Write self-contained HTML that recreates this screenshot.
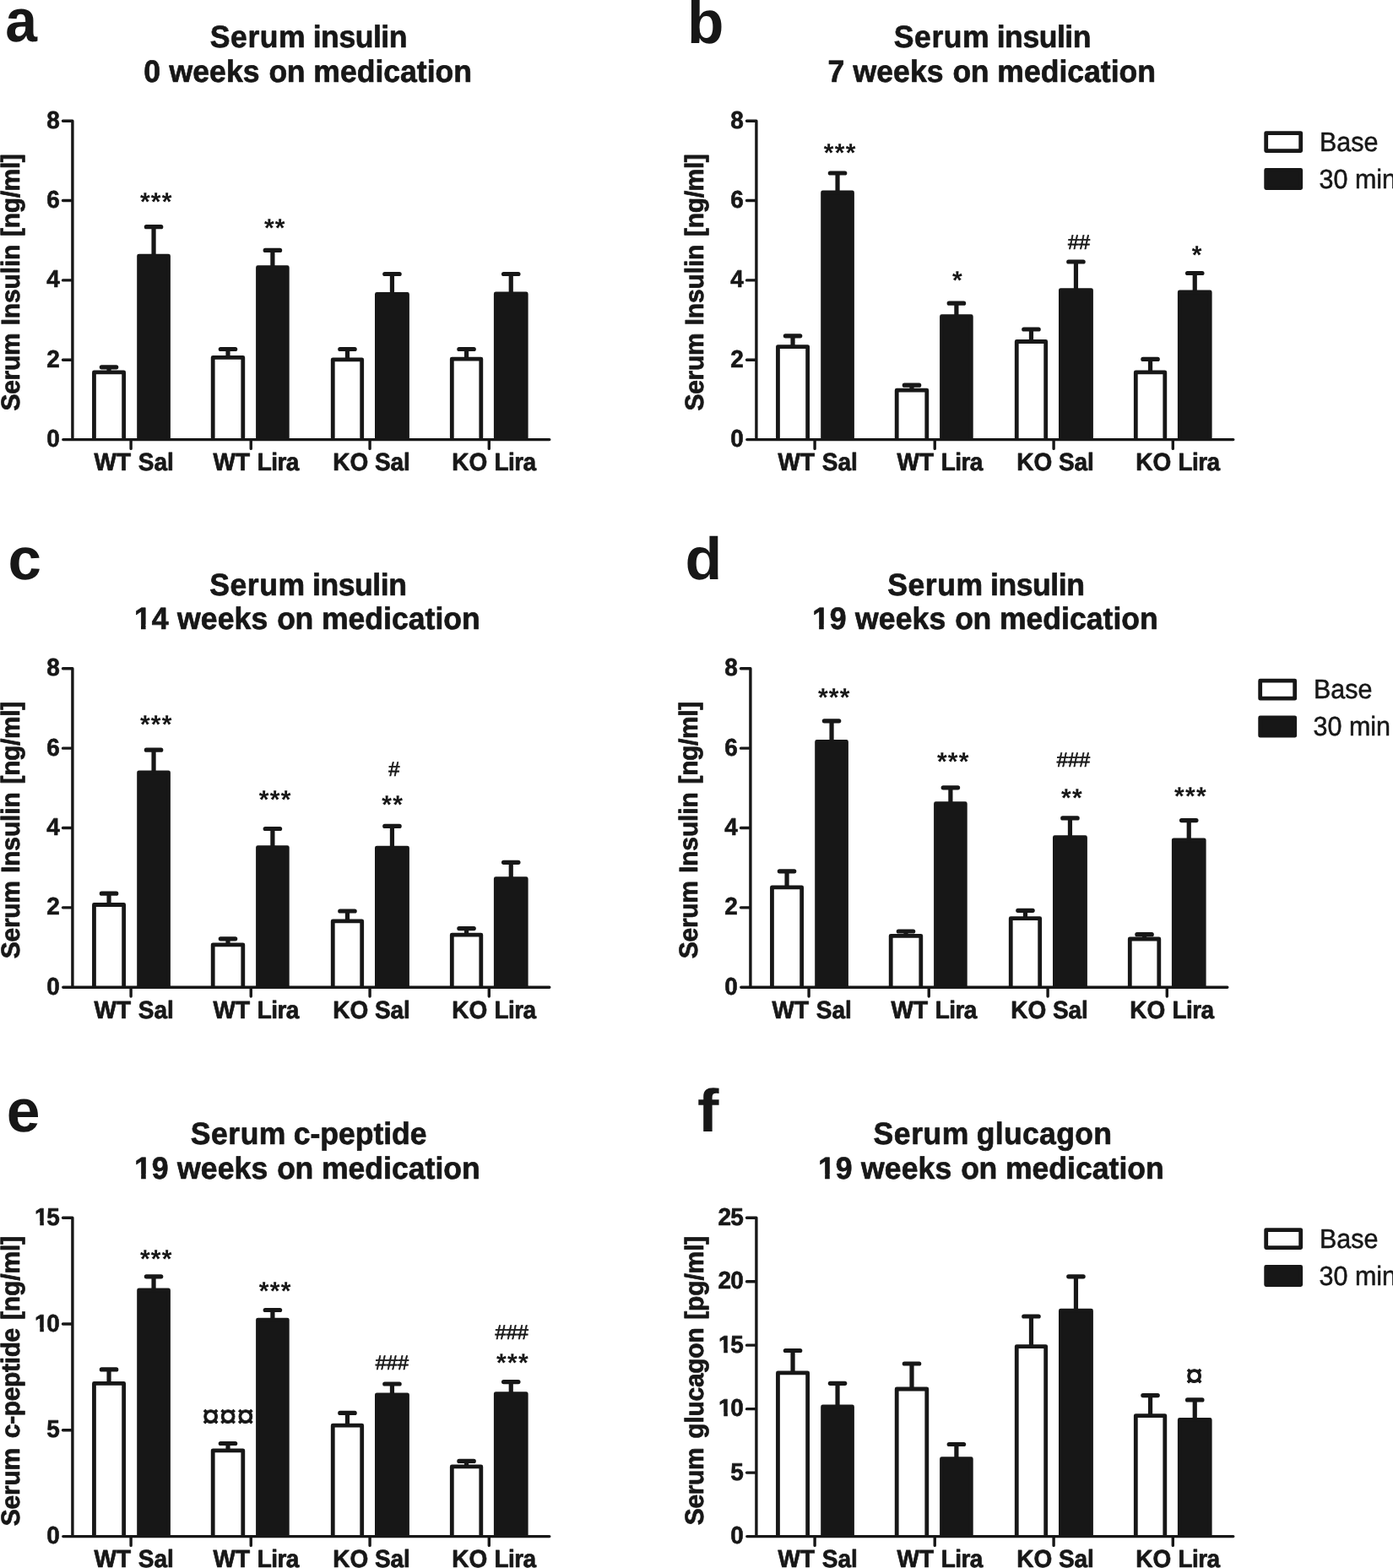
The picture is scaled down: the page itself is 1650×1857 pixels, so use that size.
<!DOCTYPE html>
<html lang="en">
<head>
<meta charset="utf-8">
<title>Serum insulin, c-peptide and glucagon</title>
<style>
html,body{margin:0;padding:0;background:#fff;}
body{width:1650px;height:1857px;overflow:hidden;}
svg{display:block;}
text{font-family:"Liberation Sans",sans-serif;fill:#171717;font-kerning:none;text-rendering:geometricPrecision;white-space:pre;}
.letter{font-size:72px;font-weight:bold;}
.title,.ylab,.tick,.tickd,.xl{font-weight:bold;stroke:#171717;stroke-width:0.7px;stroke-linejoin:round;}
.title{font-size:35.6px;}
.ylab{font-size:30.0px;}
.tick,.tickd{font-size:28px;stroke-width:0.6px;}
.xl{font-size:28px;}
.leg{font-size:30.5px;stroke:#171717;stroke-width:0.5px;stroke-linejoin:round;}
.sig{text-anchor:middle;}
.s{font-size:30.0px;font-weight:bold;letter-spacing:1.27px;}
.h{font-size:23.6px;stroke:#171717;stroke-width:0.7px;}
.c{font-size:37.2px;stroke:#171717;stroke-width:0.9px;stroke-linejoin:miter;}
.ax{fill:none;stroke:#171717;stroke-width:3.4;stroke-linecap:round;stroke-linejoin:round;}
.err{fill:none;stroke:#171717;stroke-width:5.2;stroke-linecap:round;}
.wb{fill:#fff;stroke:#171717;stroke-width:4.8;stroke-linejoin:round;stroke-linecap:butt;}
.bb{fill:#171717;stroke:#171717;stroke-width:4.8;stroke-linejoin:round;stroke-linecap:butt;}
</style>
</head>
<body>
<svg width="1650" height="1857" viewBox="0 0 1650 1857">
<rect x="0" y="0" width="1650" height="1857" fill="#fff"/>
<defs><clipPath id="one35_6" clipPathUnits="userSpaceOnUse"><path d="M-2 -35.6H35.6V-5.23H13.54V2H7.96V-5.23H-2Z"/></clipPath><clipPath id="one28" clipPathUnits="userSpaceOnUse"><path d="M-2 -28H28V-4.46H10.73V2H6.19V-4.46H-2Z"/></clipPath></defs>
<g class="panel" id="panel-a">
<text class="letter" transform="translate(6.16 49.05) scale(0.943 0.994)">a</text>
<text class="title" transform="translate(0 56) scale(1 1.03)"><tspan x="248.87" letter-spacing="0.53">Serum </tspan><tspan x="370.71" letter-spacing="-0.47">insulin</tspan></text>
<text class="title" transform="translate(0 96.6) scale(1 1.03)"><tspan x="170.29">0 </tspan><tspan x="200.4" letter-spacing="0.09">weeks </tspan><tspan x="318.61" letter-spacing="-0.49">on </tspan><tspan x="371.25">medication</tspan></text>
<text class="ylab" transform="translate(22.6 0) rotate(-90) scale(1 1.025)"><tspan x="-486.56" letter-spacing="-0.31">Serum </tspan><tspan x="-385.51" letter-spacing="-0.12">Insulin </tspan><tspan x="-279.88" letter-spacing="-0.38">[ng/ml]</tspan></text>
<path class="err" d="M120.35 434.8H137.75M129.05 434.8V441.5"/>
<path class="wb" d="M111.45 520.6V440.9H146.65V520.6"/>
<path class="err" d="M173.35 268.7H190.75M182.05 268.7V303.7"/>
<path class="bb" d="M164.6 520.6V303.1H199.5V520.6"/>
<path class="err" d="M261.3 413.5H278.7M270 413.5V424"/>
<path class="wb" d="M252.2 520.6V423.4H287.8V520.6"/>
<path class="err" d="M314.2 296.4H331.6M322.9 296.4V317.3"/>
<path class="bb" d="M305.5 520.6V316.7H340.3V520.6"/>
<path class="err" d="M402.78 413.5H420.18M411.48 413.5V426.5"/>
<path class="wb" d="M394.25 520.6V425.9H428.7V520.6"/>
<path class="err" d="M455.75 324.5H473.15M464.45 324.5V349"/>
<path class="bb" d="M446.4 520.6V348.4H482.5V520.6"/>
<path class="err" d="M543.85 413.5H561.25M552.55 413.5V425.7"/>
<path class="wb" d="M535.3 520.6V425.1H569.8V520.6"/>
<path class="err" d="M596.55 324.5H613.95M605.25 324.5V348.5"/>
<path class="bb" d="M587.3 520.6V347.9H623.2V520.6"/>
<path class="ax" d="M85.9 143.2V520.6M74.8 520.6H650.8M74.5 426.25H85.9M74.5 331.9H85.9M74.5 237.55H85.9M74.5 143.2H85.9M155.1 520.6V531.4M297.25 520.6V531.4M438.1 520.6V531.4M579.3 520.6V531.4"/>
<text class="tickd" transform="translate(55.15 529.1) scale(1 1.03)">0</text>
<text class="tickd" transform="translate(55.15 434.75) scale(1 1.03)">2</text>
<text class="tickd" transform="translate(55.15 340.4) scale(1 1.03)">4</text>
<text class="tickd" transform="translate(55.15 246.05) scale(1 1.03)">6</text>
<text class="tickd" transform="translate(55.15 151.7) scale(1 1.03)">8</text>
<text class="xl" transform="translate(0 557.1) scale(1 1.045)"><tspan x="111.47">WT </tspan><tspan x="163.79" letter-spacing="-0.07">Sal</tspan></text>
<text class="xl" transform="translate(0 557.1) scale(1 1.045)"><tspan x="252.47">WT </tspan><tspan x="304.63" letter-spacing="-0.52">Lira</tspan></text>
<text class="xl" transform="translate(0 557.1) scale(1 1.045)"><tspan x="394.23">KO </tspan><tspan x="444.09" letter-spacing="-0.22">Sal</tspan></text>
<text class="xl" transform="translate(0 557.1) scale(1 1.045)"><tspan x="535.33">KO </tspan><tspan x="585.53" letter-spacing="-0.59">Lira</tspan></text>
<text class="sig s" transform="translate(185.33 249.26)">***</text>
<text class="sig s" transform="translate(325.83 279.76)">**</text>
</g>
<g class="panel" id="panel-b">
<text class="letter" transform="translate(814.07 50.9) scale(0.987 1)">b</text>
<text class="title" transform="translate(0 56) scale(1 1.03)"><tspan x="1058.87" letter-spacing="0.53">Serum </tspan><tspan x="1180.71" letter-spacing="-0.47">insulin</tspan></text>
<text class="title" transform="translate(0 96.6) scale(1 1.03)"><tspan x="980.57">7 </tspan><tspan x="1010.4" letter-spacing="0.09">weeks </tspan><tspan x="1128.61" letter-spacing="-0.49">on </tspan><tspan x="1181.25">medication</tspan></text>
<text class="ylab" transform="translate(832.6 0) rotate(-90) scale(1 1.025)"><tspan x="-486.56" letter-spacing="-0.31">Serum </tspan><tspan x="-385.51" letter-spacing="-0.12">Insulin </tspan><tspan x="-279.88" letter-spacing="-0.38">[ng/ml]</tspan></text>
<path class="err" d="M930.35 397.8H947.75M939.05 397.8V411.2"/>
<path class="wb" d="M921.45 520.6V410.6H956.65V520.6"/>
<path class="err" d="M983.35 205H1000.75M992.05 205V228.6"/>
<path class="bb" d="M974.6 520.6V228H1009.5V520.6"/>
<path class="err" d="M1071.3 456.2H1088.7M1080 456.2V462.8"/>
<path class="wb" d="M1062.2 520.6V462.2H1097.8V520.6"/>
<path class="err" d="M1124.2 359.2H1141.6M1132.9 359.2V375.3"/>
<path class="bb" d="M1115.5 520.6V374.7H1150.3V520.6"/>
<path class="err" d="M1212.77 390H1230.17M1221.47 390V405.1"/>
<path class="wb" d="M1204.25 520.6V404.5H1238.7V520.6"/>
<path class="err" d="M1265.75 310H1283.15M1274.45 310V344.2"/>
<path class="bb" d="M1256.4 520.6V343.6H1292.5V520.6"/>
<path class="err" d="M1353.85 425.4H1371.25M1362.55 425.4V441.5"/>
<path class="wb" d="M1345.3 520.6V440.9H1379.8V520.6"/>
<path class="err" d="M1406.55 323.5H1423.95M1415.25 323.5V346.6"/>
<path class="bb" d="M1397.3 520.6V346H1433.2V520.6"/>
<path class="ax" d="M895.9 143.2V520.6M884.8 520.6H1460.8M884.5 426.25H895.9M884.5 331.9H895.9M884.5 237.55H895.9M884.5 143.2H895.9M965.1 520.6V531.4M1107.25 520.6V531.4M1248.1 520.6V531.4M1389.3 520.6V531.4"/>
<text class="tickd" transform="translate(865.15 529.1) scale(1 1.03)">0</text>
<text class="tickd" transform="translate(865.15 434.75) scale(1 1.03)">2</text>
<text class="tickd" transform="translate(865.15 340.4) scale(1 1.03)">4</text>
<text class="tickd" transform="translate(865.15 246.05) scale(1 1.03)">6</text>
<text class="tickd" transform="translate(865.15 151.7) scale(1 1.03)">8</text>
<text class="xl" transform="translate(0 557.1) scale(1 1.045)"><tspan x="921.47">WT </tspan><tspan x="973.79" letter-spacing="-0.07">Sal</tspan></text>
<text class="xl" transform="translate(0 557.1) scale(1 1.045)"><tspan x="1062.47">WT </tspan><tspan x="1114.63" letter-spacing="-0.52">Lira</tspan></text>
<text class="xl" transform="translate(0 557.1) scale(1 1.045)"><tspan x="1204.23">KO </tspan><tspan x="1254.09" letter-spacing="-0.22">Sal</tspan></text>
<text class="xl" transform="translate(0 557.1) scale(1 1.045)"><tspan x="1345.33">KO </tspan><tspan x="1395.53" letter-spacing="-0.59">Lira</tspan></text>
<text class="sig s" transform="translate(995.24 190.86)">***</text>
<text class="sig s" transform="translate(1134.54 342.36)">*</text>
<text class="sig h" transform="translate(1278.1 294.53) scale(1 1.02)">##</text>
<text class="sig s" transform="translate(1418.23 312.16)">*</text>
<rect class="wb" x="1499.7" y="157.6" width="41" height="21"/>
<rect class="bb" x="1499.7" y="201.4" width="41" height="21.2"/>
<text class="leg" transform="translate(1563 178.7) scale(1 1.05)">Base</text>
<text class="leg" transform="translate(1562.5 222.7) scale(1 1.05)">30 min</text>
</g>
<g class="panel" id="panel-c">
<text class="letter" transform="translate(9.58 686.07) scale(0.985 0.973)">c</text>
<text class="title" transform="translate(0 704.6) scale(1 1.03)"><tspan x="248.27" letter-spacing="0.53">Serum </tspan><tspan x="370.11" letter-spacing="-0.47">insulin</tspan></text>
<text class="title" transform="translate(159.01 745.2) scale(1 1.03)" clip-path="url(#one35_6)">1</text>
<text class="title" transform="translate(0 745.2) scale(1 1.03)"><tspan x="179.86">4 </tspan><tspan x="210.1" letter-spacing="0.09">weeks </tspan><tspan x="328.31" letter-spacing="-0.49">on </tspan><tspan x="380.95">medication</tspan></text>
<text class="ylab" transform="translate(22.6 0) rotate(-90) scale(1 1.025)"><tspan x="-1135.16" letter-spacing="-0.31">Serum </tspan><tspan x="-1034.11" letter-spacing="-0.12">Insulin </tspan><tspan x="-928.48" letter-spacing="-0.38">[ng/ml]</tspan></text>
<path class="err" d="M120.35 1058.2H137.75M129.05 1058.2V1072.1"/>
<path class="wb" d="M111.45 1169.2V1071.5H146.65V1169.2"/>
<path class="err" d="M173.35 888.2H190.75M182.05 888.2V915.4"/>
<path class="bb" d="M164.6 1169.2V914.8H199.5V1169.2"/>
<path class="err" d="M261.3 1111.8H278.7M270 1111.8V1119.4"/>
<path class="wb" d="M252.2 1169.2V1118.8H287.8V1169.2"/>
<path class="err" d="M314.2 981.5H331.6M322.9 981.5V1004.2"/>
<path class="bb" d="M305.5 1169.2V1003.6H340.3V1169.2"/>
<path class="err" d="M402.78 1079H420.18M411.48 1079V1091.5"/>
<path class="wb" d="M394.25 1169.2V1090.9H428.7V1169.2"/>
<path class="err" d="M455.75 978.4H473.15M464.45 978.4V1004.7"/>
<path class="bb" d="M446.4 1169.2V1004.1H482.5V1169.2"/>
<path class="err" d="M543.85 1099.6H561.25M552.55 1099.6V1107.7"/>
<path class="wb" d="M535.3 1169.2V1107.1H569.8V1169.2"/>
<path class="err" d="M596.55 1021.3H613.95M605.25 1021.3V1041.3"/>
<path class="bb" d="M587.3 1169.2V1040.7H623.2V1169.2"/>
<path class="ax" d="M85.9 791.8V1169.2M74.8 1169.2H650.8M74.5 1074.85H85.9M74.5 980.5H85.9M74.5 886.15H85.9M74.5 791.8H85.9M155.1 1169.2V1180M297.25 1169.2V1180M438.1 1169.2V1180M579.3 1169.2V1180"/>
<text class="tickd" transform="translate(55.15 1177.7) scale(1 1.03)">0</text>
<text class="tickd" transform="translate(55.15 1083.35) scale(1 1.03)">2</text>
<text class="tickd" transform="translate(55.15 989) scale(1 1.03)">4</text>
<text class="tickd" transform="translate(55.15 894.65) scale(1 1.03)">6</text>
<text class="tickd" transform="translate(55.15 800.3) scale(1 1.03)">8</text>
<text class="xl" transform="translate(0 1205.7) scale(1 1.045)"><tspan x="111.47">WT </tspan><tspan x="163.79" letter-spacing="-0.07">Sal</tspan></text>
<text class="xl" transform="translate(0 1205.7) scale(1 1.045)"><tspan x="252.47">WT </tspan><tspan x="304.63" letter-spacing="-0.52">Lira</tspan></text>
<text class="xl" transform="translate(0 1205.7) scale(1 1.045)"><tspan x="394.23">KO </tspan><tspan x="444.09" letter-spacing="-0.22">Sal</tspan></text>
<text class="xl" transform="translate(0 1205.7) scale(1 1.045)"><tspan x="535.33">KO </tspan><tspan x="585.53" letter-spacing="-0.59">Lira</tspan></text>
<text class="sig s" transform="translate(185.33 867.86)">***</text>
<text class="sig s" transform="translate(326.24 956.66)">***</text>
<text class="sig h" transform="translate(466.8 919.03) scale(1 1.02)">#</text>
<text class="sig s" transform="translate(465.13 962.86)">**</text>
</g>
<g class="panel" id="panel-d">
<text class="letter" transform="translate(811.51 686.06) scale(0.995 0.983)">d</text>
<text class="title" transform="translate(0 704.6) scale(1 1.03)"><tspan x="1051.27" letter-spacing="0.53">Serum </tspan><tspan x="1173.11" letter-spacing="-0.47">insulin</tspan></text>
<text class="title" transform="translate(962.21 745.2) scale(1 1.03)" clip-path="url(#one35_6)">1</text>
<text class="title" transform="translate(0 745.2) scale(1 1.03)"><tspan x="982.67">9 </tspan><tspan x="1013.1" letter-spacing="0.09">weeks </tspan><tspan x="1131.31" letter-spacing="-0.49">on </tspan><tspan x="1183.95">medication</tspan></text>
<text class="ylab" transform="translate(825.6 0) rotate(-90) scale(1 1.025)"><tspan x="-1135.16" letter-spacing="-0.31">Serum </tspan><tspan x="-1034.11" letter-spacing="-0.12">Insulin </tspan><tspan x="-928.48" letter-spacing="-0.38">[ng/ml]</tspan></text>
<path class="err" d="M923.35 1031.8H940.75M932.05 1031.8V1051.5"/>
<path class="wb" d="M914.45 1169.2V1050.9H949.65V1169.2"/>
<path class="err" d="M976.35 853.8H993.75M985.05 853.8V879.1"/>
<path class="bb" d="M967.6 1169.2V878.5H1002.5V1169.2"/>
<path class="err" d="M1064.3 1103H1081.7M1073 1103V1108.9"/>
<path class="wb" d="M1055.2 1169.2V1108.3H1090.8V1169.2"/>
<path class="err" d="M1117.2 932.8H1134.6M1125.9 932.8V952.3"/>
<path class="bb" d="M1108.5 1169.2V951.7H1143.3V1169.2"/>
<path class="err" d="M1205.77 1078.3H1223.17M1214.47 1078.3V1088.3"/>
<path class="wb" d="M1197.25 1169.2V1087.7H1231.7V1169.2"/>
<path class="err" d="M1258.75 968.9H1276.15M1267.45 968.9V992.3"/>
<path class="bb" d="M1249.4 1169.2V991.7H1285.5V1169.2"/>
<path class="err" d="M1346.85 1106.7H1364.25M1355.55 1106.7V1112.6"/>
<path class="wb" d="M1338.3 1169.2V1112H1372.8V1169.2"/>
<path class="err" d="M1399.55 971.6H1416.95M1408.25 971.6V995.4"/>
<path class="bb" d="M1390.3 1169.2V994.8H1426.2V1169.2"/>
<path class="ax" d="M888.9 791.8V1169.2M877.8 1169.2H1453.8M877.5 1074.85H888.9M877.5 980.5H888.9M877.5 886.15H888.9M877.5 791.8H888.9M958.1 1169.2V1180M1100.25 1169.2V1180M1241.1 1169.2V1180M1382.3 1169.2V1180"/>
<text class="tickd" transform="translate(858.15 1177.7) scale(1 1.03)">0</text>
<text class="tickd" transform="translate(858.15 1083.35) scale(1 1.03)">2</text>
<text class="tickd" transform="translate(858.15 989) scale(1 1.03)">4</text>
<text class="tickd" transform="translate(858.15 894.65) scale(1 1.03)">6</text>
<text class="tickd" transform="translate(858.15 800.3) scale(1 1.03)">8</text>
<text class="xl" transform="translate(0 1205.7) scale(1 1.045)"><tspan x="914.47">WT </tspan><tspan x="966.79" letter-spacing="-0.07">Sal</tspan></text>
<text class="xl" transform="translate(0 1205.7) scale(1 1.045)"><tspan x="1055.47">WT </tspan><tspan x="1107.63" letter-spacing="-0.52">Lira</tspan></text>
<text class="xl" transform="translate(0 1205.7) scale(1 1.045)"><tspan x="1197.23">KO </tspan><tspan x="1247.09" letter-spacing="-0.22">Sal</tspan></text>
<text class="xl" transform="translate(0 1205.7) scale(1 1.045)"><tspan x="1338.33">KO </tspan><tspan x="1388.53" letter-spacing="-0.59">Lira</tspan></text>
<text class="sig s" transform="translate(988.34 835.96)">***</text>
<text class="sig s" transform="translate(1129.34 911.96)">***</text>
<text class="sig h" transform="translate(1271.5 908.03) scale(1 1.02)">###</text>
<text class="sig s" transform="translate(1269.93 955.06)">**</text>
<text class="sig s" transform="translate(1410.43 953.16)">***</text>
<rect class="wb" x="1492.7" y="806.2" width="41" height="21"/>
<rect class="bb" x="1492.7" y="850" width="41" height="21.2"/>
<text class="leg" transform="translate(1556 827.3) scale(1 1.05)">Base</text>
<text class="leg" transform="translate(1555.5 871.3) scale(1 1.05)">30 min</text>
</g>
<g class="panel" id="panel-e">
<text class="letter" transform="translate(7.76 1339.95) scale(0.992 0.994)">e</text>
<text class="title" transform="translate(0 1355) scale(1 1.03)"><tspan x="225.87" letter-spacing="0.48">Serum </tspan><tspan x="347.81" letter-spacing="-0.05">c-peptide</tspan></text>
<text class="title" transform="translate(159.21 1395.6) scale(1 1.03)" clip-path="url(#one35_6)">1</text>
<text class="title" transform="translate(0 1395.6) scale(1 1.03)"><tspan x="179.67">9 </tspan><tspan x="210.1" letter-spacing="0.09">weeks </tspan><tspan x="328.31" letter-spacing="-0.49">on </tspan><tspan x="380.95">medication</tspan></text>
<text class="ylab" transform="translate(22.6 0) rotate(-90) scale(1 1.025)"><tspan x="-1807.16" letter-spacing="-0.26">Serum </tspan><tspan x="-1703.17" letter-spacing="-0.36">c-peptide </tspan><tspan x="-1563.08" letter-spacing="-0.13">[ng/ml]</tspan></text>
<path class="err" d="M120.35 1621.9H137.75M129.05 1621.9V1639"/>
<path class="wb" d="M111.45 1819.6V1638.4H146.65V1819.6"/>
<path class="err" d="M173.35 1511.8H190.75M182.05 1511.8V1528.6"/>
<path class="bb" d="M164.6 1819.6V1528H199.5V1819.6"/>
<path class="err" d="M261.3 1709.5H278.7M270 1709.5V1718.4"/>
<path class="wb" d="M252.2 1819.6V1717.8H287.8V1819.6"/>
<path class="err" d="M314.2 1551.5H331.6M322.9 1551.5V1563.7"/>
<path class="bb" d="M305.5 1819.6V1563.1H340.3V1819.6"/>
<path class="err" d="M402.78 1673.4H420.18M411.48 1673.4V1688.8"/>
<path class="wb" d="M394.25 1819.6V1688.2H428.7V1819.6"/>
<path class="err" d="M455.75 1639H473.15M464.45 1639V1652.4"/>
<path class="bb" d="M446.4 1819.6V1651.8H482.5V1819.6"/>
<path class="err" d="M543.85 1730.4H561.25M552.55 1730.4V1737.5"/>
<path class="wb" d="M535.3 1819.6V1736.9H569.8V1819.6"/>
<path class="err" d="M596.55 1636.6H613.95M605.25 1636.6V1651.2"/>
<path class="bb" d="M587.3 1819.6V1650.6H623.2V1819.6"/>
<path class="ax" d="M85.9 1442.2V1819.6M74.8 1819.6H650.8M74.5 1693.8H85.9M74.5 1568H85.9M74.5 1442.2H85.9M155.1 1819.6V1830.4M297.25 1819.6V1830.4M438.1 1819.6V1830.4M579.3 1819.6V1830.4"/>
<text class="tickd" transform="translate(55.15 1828.1) scale(1 1.03)">0</text>
<text class="tickd" transform="translate(55.15 1702.3) scale(1 1.03)">5</text>
<text class="tick" transform="translate(41.12 1576.5) scale(1 1.03)" clip-path="url(#one28)">1</text>
<text class="tickd" transform="translate(55.15 1576.5) scale(1 1.03)">0</text>
<text class="tick" transform="translate(41.12 1450.7) scale(1 1.03)" clip-path="url(#one28)">1</text>
<text class="tickd" transform="translate(55.15 1450.7) scale(1 1.03)">5</text>
<text class="xl" transform="translate(0 1856.1) scale(1 1.045)"><tspan x="111.47">WT </tspan><tspan x="163.79" letter-spacing="-0.07">Sal</tspan></text>
<text class="xl" transform="translate(0 1856.1) scale(1 1.045)"><tspan x="252.47">WT </tspan><tspan x="304.63" letter-spacing="-0.52">Lira</tspan></text>
<text class="xl" transform="translate(0 1856.1) scale(1 1.045)"><tspan x="394.23">KO </tspan><tspan x="444.09" letter-spacing="-0.22">Sal</tspan></text>
<text class="xl" transform="translate(0 1856.1) scale(1 1.045)"><tspan x="535.33">KO </tspan><tspan x="585.53" letter-spacing="-0.59">Lira</tspan></text>
<text class="sig s" transform="translate(185.33 1501.16)">***</text>
<text class="sig s" transform="translate(326.24 1538.96)">***</text>
<text class="sig c" transform="translate(270.2 1689.99)">¤¤¤</text>
<text class="sig h" transform="translate(464.4 1621.83) scale(1 1.02)">###</text>
<text class="sig h" transform="translate(606.2 1586.43) scale(1 1.02)">###</text>
<text class="sig s" transform="translate(607.53 1624.16)">***</text>
</g>
<g class="panel" id="panel-f">
<text class="letter" transform="translate(825.94 1339.75) scale(1.062 0.993)">f</text>
<text class="title" transform="translate(0 1355) scale(1 1.03)"><tspan x="1034.57" letter-spacing="0.53">Serum </tspan><tspan x="1156.84" letter-spacing="0.28">glucagon</tspan></text>
<text class="title" transform="translate(969.21 1395.6) scale(1 1.03)" clip-path="url(#one35_6)">1</text>
<text class="title" transform="translate(0 1395.6) scale(1 1.03)"><tspan x="989.67">9 </tspan><tspan x="1020.1" letter-spacing="0.09">weeks </tspan><tspan x="1138.31" letter-spacing="-0.49">on </tspan><tspan x="1190.95">medication</tspan></text>
<text class="ylab" transform="translate(832.6 0) rotate(-90) scale(1 1.025)"><tspan x="-1806.26" letter-spacing="-0.36">Serum </tspan><tspan x="-1703.63" letter-spacing="-0.28">glucagon </tspan><tspan x="-1562.78" letter-spacing="-0.15">[pg/ml]</tspan></text>
<path class="err" d="M930.35 1599.5H947.75M939.05 1599.5V1626.5"/>
<path class="wb" d="M921.45 1819.6V1625.9H956.65V1819.6"/>
<path class="err" d="M983.35 1638.3H1000.75M992.05 1638.3V1666.5"/>
<path class="bb" d="M974.6 1819.6V1665.9H1009.5V1819.6"/>
<path class="err" d="M1071.3 1615H1088.7M1080 1615V1645.6"/>
<path class="wb" d="M1062.2 1819.6V1645H1097.8V1819.6"/>
<path class="err" d="M1124.2 1710.5H1141.6M1132.9 1710.5V1728.3"/>
<path class="bb" d="M1115.5 1819.6V1727.7H1150.3V1819.6"/>
<path class="err" d="M1212.77 1559H1230.17M1221.47 1559V1595.2"/>
<path class="wb" d="M1204.25 1819.6V1594.6H1238.7V1819.6"/>
<path class="err" d="M1265.75 1511.8H1283.15M1274.45 1511.8V1552.8"/>
<path class="bb" d="M1256.4 1819.6V1552.2H1292.5V1819.6"/>
<path class="err" d="M1353.85 1652.6H1371.25M1362.55 1652.6V1677.2"/>
<path class="wb" d="M1345.3 1819.6V1676.6H1379.8V1819.6"/>
<path class="err" d="M1406.55 1657.9H1423.95M1415.25 1657.9V1682"/>
<path class="bb" d="M1397.3 1819.6V1681.4H1433.2V1819.6"/>
<path class="ax" d="M895.9 1442.2V1819.6M884.8 1819.6H1460.8M884.5 1744.12H895.9M884.5 1668.64H895.9M884.5 1593.16H895.9M884.5 1517.68H895.9M884.5 1442.2H895.9M965.1 1819.6V1830.4M1107.25 1819.6V1830.4M1248.1 1819.6V1830.4M1389.3 1819.6V1830.4"/>
<text class="tickd" transform="translate(865.15 1828.1) scale(1 1.03)">0</text>
<text class="tickd" transform="translate(865.15 1752.62) scale(1 1.03)">5</text>
<text class="tick" transform="translate(851.12 1677.14) scale(1 1.03)" clip-path="url(#one28)">1</text>
<text class="tickd" transform="translate(865.15 1677.14) scale(1 1.03)">0</text>
<text class="tick" transform="translate(851.12 1601.66) scale(1 1.03)" clip-path="url(#one28)">1</text>
<text class="tickd" transform="translate(865.15 1601.66) scale(1 1.03)">5</text>
<text class="tickd" transform="translate(850.6 1526.18) scale(1 1.03)">2</text>
<text class="tickd" transform="translate(865.15 1526.18) scale(1 1.03)">0</text>
<text class="tickd" transform="translate(850.6 1450.7) scale(1 1.03)">2</text>
<text class="tickd" transform="translate(865.15 1450.7) scale(1 1.03)">5</text>
<text class="xl" transform="translate(0 1856.1) scale(1 1.045)"><tspan x="921.47">WT </tspan><tspan x="973.79" letter-spacing="-0.07">Sal</tspan></text>
<text class="xl" transform="translate(0 1856.1) scale(1 1.045)"><tspan x="1062.47">WT </tspan><tspan x="1114.63" letter-spacing="-0.52">Lira</tspan></text>
<text class="xl" transform="translate(0 1856.1) scale(1 1.045)"><tspan x="1204.23">KO </tspan><tspan x="1254.09" letter-spacing="-0.22">Sal</tspan></text>
<text class="xl" transform="translate(0 1856.1) scale(1 1.045)"><tspan x="1345.33">KO </tspan><tspan x="1395.53" letter-spacing="-0.59">Lira</tspan></text>
<text class="sig c" transform="translate(1414.5 1642.49)">¤</text>
<rect class="wb" x="1499.7" y="1456.6" width="41" height="21"/>
<rect class="bb" x="1499.7" y="1500.4" width="41" height="21.2"/>
<text class="leg" transform="translate(1563 1477.7) scale(1 1.05)">Base</text>
<text class="leg" transform="translate(1562.5 1521.7) scale(1 1.05)">30 min</text>
</g>
</svg>
</body>
</html>
